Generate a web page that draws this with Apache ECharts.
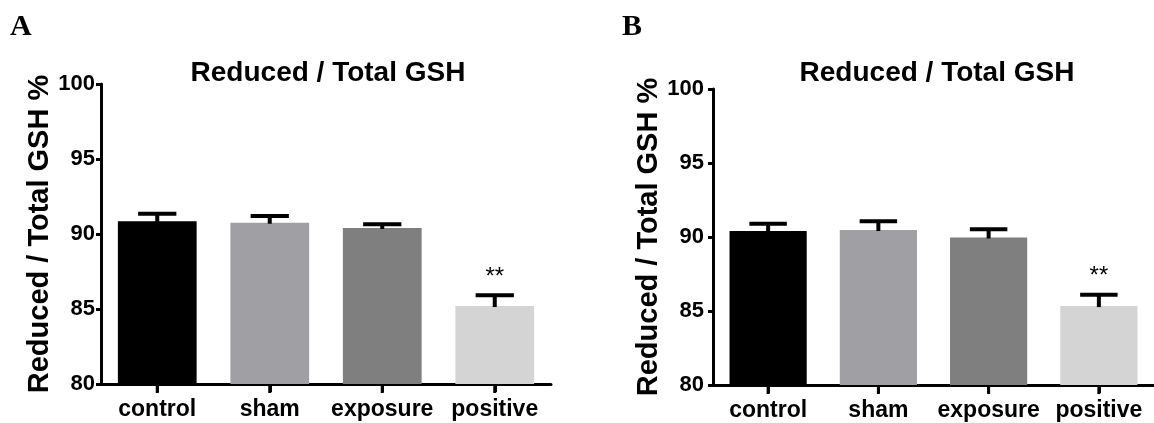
<!DOCTYPE html>
<html>
<head>
<meta charset="utf-8">
<script src="https://cdn.jsdelivr.net/npm/echarts@6/dist/echarts.min.js"></script>
<style>
html,body{margin:0;padding:0;background:#fff;}
#c{width:1154px;height:423px;}
</style>
</head>
<body>
<div id="c"></div>
<script>
const categories = ['control', 'sham', 'exposure', 'positive'];
const meanA = [90.85, 90.75, 90.4, 85.2];
const errA = [0.5, 0.45, 0.25, 0.72];
const meanB = [90.4, 90.47, 89.97, 85.33];
const errB = [0.5, 0.6, 0.55, 0.76];
const sigA = ['', '', '', '**'];
const sigB = ['', '', '', '**'];
const barColors = ['#000000', '#a09fa4', '#7f7f7f', '#d4d4d4'];
const yMin = 80, yMax = 100, yStep = 5;
const titleText = 'Reduced / Total GSH';
const yName = 'Reduced / Total GSH %';
const panelLetters = ['A', 'B'];

const FONT = '"Liberation Sans", Arial, sans-serif';
const SERIF = '"Liberation Serif", "Times New Roman", serif';

function xAxisCfg(gi) {
  return {
    type: 'category', gridIndex: gi, data: categories,
    axisLine: {show: true, lineStyle: {color: '#000', width: 3}},
    axisTick: {show: true, alignWithLabel: true, interval: 0, length: 8, lineStyle: {color: '#000', width: 3}},
    axisLabel: {interval: 0, color: '#000', fontFamily: FONT, fontWeight: 'bold', fontSize: 23, margin: 14}
  };
}
function yAxisCfg(gi, gap, lm) {
  return {
    type: 'value', gridIndex: gi, min: yMin, max: yMax, interval: yStep,
    name: yName, nameLocation: 'middle', nameGap: gap,
    nameTextStyle: {color: '#000', fontFamily: FONT, fontWeight: 'bold', fontSize: 29},
    splitLine: {show: false},
    axisLine: {show: true, lineStyle: {color: '#000', width: 3}},
    axisTick: {show: true, length: 5, lineStyle: {color: '#000', width: 3}},
    axisLabel: {color: '#000', fontFamily: FONT, fontWeight: 'bold', fontSize: 22, margin: lm}
  };
}
function barSeries(gi, means) {
  return {
    type: 'bar', xAxisIndex: gi, yAxisIndex: gi, barWidth: '70%',
    data: means.map((v, i) => ({value: v, itemStyle: {color: barColors[i]}})),
    z: 2, silent: true
  };
}
function errSeries(gi, means, errs, sigs) {
  return {
    type: 'custom', xAxisIndex: gi, yAxisIndex: gi, z: 3, silent: true, clip: false,
    data: means.map((m, i) => [i, m, errs[i]]),
    renderItem: function (params, api) {
      const idx = api.value(0), m = api.value(1), e = api.value(2);
      const base = api.coord([idx, m]);
      const top = api.coord([idx, m + e]);
      const axisPt = api.coord([idx, yMin]);
      const band = api.size([1, 0])[0];
      const half = band * 0.17;
      const children = [
        {type: 'line', shape: {x1: base[0], y1: base[1] + 1, x2: top[0], y2: top[1]}, style: {stroke: '#000', lineWidth: 4}},
        {type: 'line', shape: {x1: top[0] - half, y1: top[1], x2: top[0] + half, y2: top[1]}, style: {stroke: '#000', lineWidth: 4}},
        {type: 'line', shape: {x1: axisPt[0], y1: axisPt[1], x2: axisPt[0], y2: axisPt[1] + 9}, style: {stroke: '#000', lineWidth: 3}}
      ];
      const s = sigs[params.dataIndex];
      if (s) {
        children.push({type: 'text', style: {text: s, x: top[0], y: top[1] - 18, align: 'center', verticalAlign: 'middle', fill: '#000', font: 'normal 24px ' + FONT}});
      }
      return {type: 'group', children: children};
    }
  };
}

const chart = echarts.init(document.getElementById('c'), null, {renderer: 'canvas'});
chart.setOption({
  animation: false,
  backgroundColor: '#fff',
  title: [
    {text: titleText, left: 323, top: 54, textAlign: 'center', textStyle: {color: '#000', fontFamily: FONT, fontWeight: 'bold', fontSize: 28}},
    {text: titleText, left: 932, top: 54, textAlign: 'center', textStyle: {color: '#000', fontFamily: FONT, fontWeight: 'bold', fontSize: 28}},
    {text: panelLetters[0], left: 5, top: 7, textStyle: {color: '#000', fontFamily: SERIF, fontWeight: 'bold', fontSize: 30}},
    {text: panelLetters[1], left: 617, top: 7, textStyle: {color: '#000', fontFamily: SERIF, fontWeight: 'bold', fontSize: 30}}
  ],
  grid: [
    {left: 101, right: 603, top: 84, bottom: 39, containLabel: false},
    {left: 713, right: -4, top: 89, bottom: 38, containLabel: false}
  ],
  xAxis: [xAxisCfg(0), xAxisCfg(1)],
  yAxis: [yAxisCfg(0, 46, 6), yAxisCfg(1, 50, 9)],
  series: [
    barSeries(0, meanA), errSeries(0, meanA, errA, sigA),
    barSeries(1, meanB), errSeries(1, meanB, errB, sigB)
  ]
});
</script>
</body>
</html>
